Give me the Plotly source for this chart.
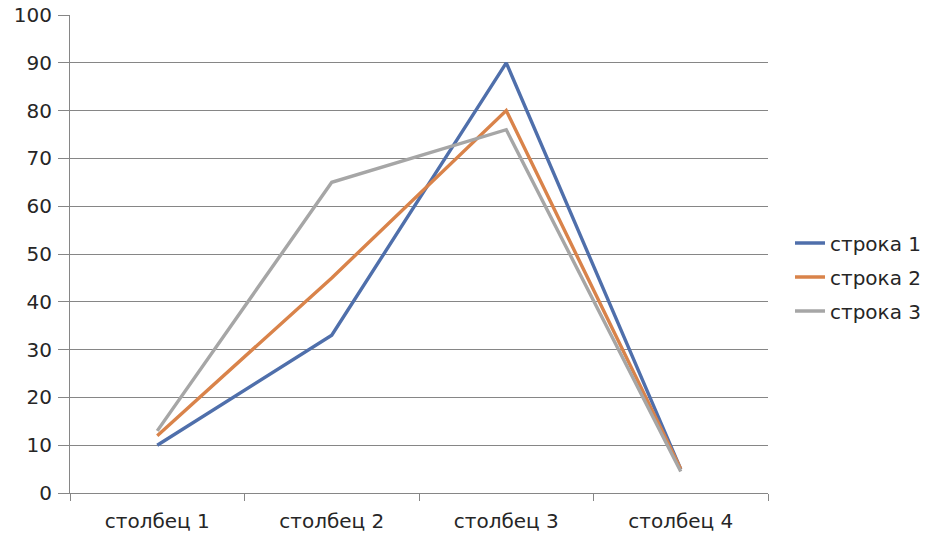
import plotly.graph_objects as go

categories = ["столбец 1", "столбец 2", "столбец 3", "столбец 4"]
series_names = ["строка 1", "строка 2", "строка 3"]
row1 = [10, 33, 90, 5]
row2 = [12, 45, 80, 5]
row3 = [13, 65, 76, 4.5]
y_ticks = list(range(0, 101, 10))

colors = ["#4f6fab", "#d9834a", "#a6a6a6"]
FONT = "DejaVu Sans"

fig = go.Figure()
for name, vals, c in zip(series_names, [row1, row2, row3], colors):
    fig.add_trace(go.Scatter(x=categories, y=vals, name=name, mode="lines",
                             legendgroup=name,
                             line=dict(color=c, width=3.4)))

fig.update_layout(
    width=927, height=537,
    margin=dict(l=70, r=159, t=15, b=44, autoexpand=False),
    plot_bgcolor="white", paper_bgcolor="white",
    font=dict(family=FONT, size=20, color="#262626"),
    showlegend=True,
    legend=dict(xref="container", yref="container",
                x=790 / 927, y=1 - 277 / 537, xanchor="left", yanchor="middle",
                font=dict(family=FONT, size=20, color="#262626"),
                tracegroupgap=5, itemwidth=30, traceorder="grouped"),
    xaxis=dict(type="category", tickson="boundaries", ticks="outside",
               ticklen=7, tickcolor="#868686", showline=True,
               linecolor="#868686", linewidth=1, showgrid=False,
               range=[-0.5, 3.5], tickfont=dict(size=20), automargin=False,
               ticklabelstandoff=10),
    yaxis=dict(range=[0, 100], tickvals=y_ticks, ticks="outside", ticklen=11,
               tickcolor="#868686", showline=True, linecolor="#868686",
               linewidth=1, showgrid=True, gridcolor="#868686", gridwidth=1,
               zeroline=False, tickfont=dict(size=20), ticklabelstandoff=2,
               automargin=False),
)

fig.write_html("out.html")
